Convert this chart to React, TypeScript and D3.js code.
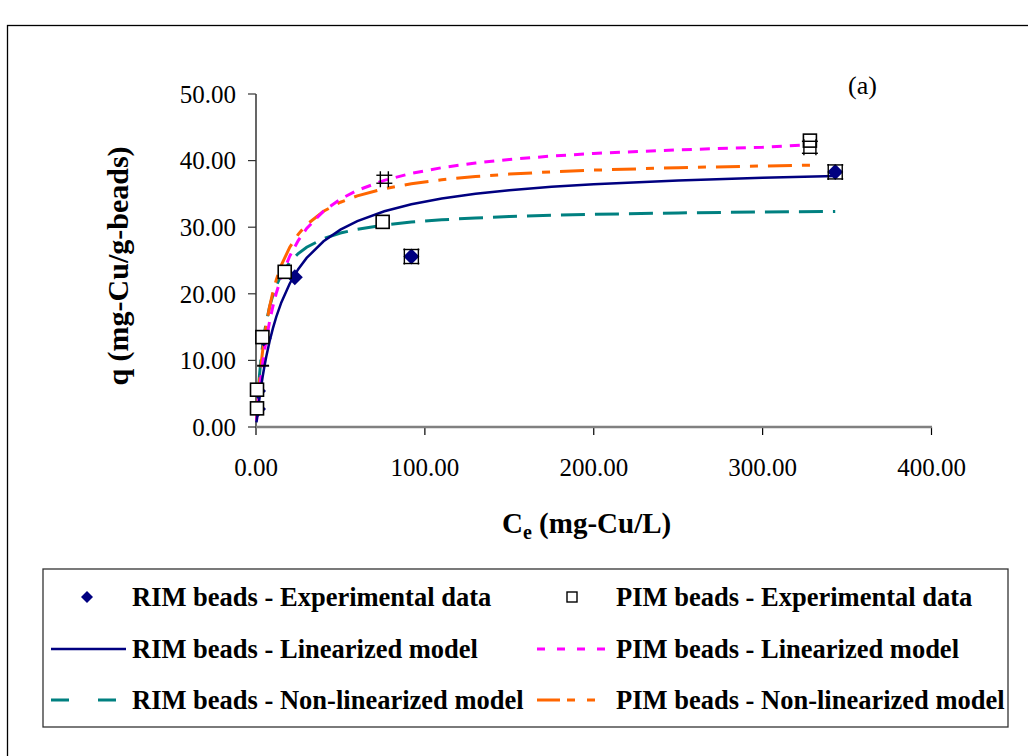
import React from "react";
import * as d3 from "d3";

// ---------- data ----------
const xTicks = [0, 100, 200, 300, 400];
const yTicks = [0, 10, 20, 30, 40, 50];

// RIM beads – experimental
const rimExpCe = [1.2, 1.2, 4.5, 23, 92, 343];
const rimExpQ = [2.7, 5.4, 13.3, 22.5, 25.6, 38.3];
// PIM beads – experimental
const pimExpCe = [0.6, 0.6, 3.8, 17, 75, 328];
const pimExpQ = [2.8, 5.6, 13.5, 23.3, 30.8, 43.0];

// error-bar frames (value coords), offset in px
const errFrameCe = [92, 343, 76, 328];
const errFrameQ = [25.6, 38.3, 37.2, 42.0];
const errFrameOff = [7, 7, 4, 6];
const capCe = [4.2];
const capQ = [9.2];

// model curves
const ceRim = [0.3, 1, 2, 3, 4, 5, 6, 8, 10, 12, 15, 20, 25, 30, 40, 50, 60, 76, 92, 110, 130, 150, 175, 200, 250, 300, 343];
const qRimLin = [0.7, 2.24, 4.23, 6.03, 7.65, 9.12, 10.46, 12.81, 14.81, 16.53, 18.71, 21.55, 23.7, 25.39, 27.88, 29.63, 30.91, 32.4, 33.44, 34.3, 35.01, 35.55, 36.07, 36.46, 37.03, 37.42, 37.67];
const qRimNon = [1.42, 4.3, 7.62, 10.24, 12.38, 14.14, 15.63, 18.0, 19.8, 21.21, 22.85, 24.75, 26.05, 27.0, 28.29, 29.12, 29.7, 30.34, 30.77, 31.11, 31.39, 31.6, 31.79, 31.94, 32.14, 32.28, 32.37];
const cePim = [0.3, 1, 2, 3, 4, 5, 6, 8, 10, 12, 15, 20, 25, 30, 40, 50, 60, 76, 92, 110, 130, 150, 175, 200, 250, 300, 330];
const qPimLin = [0.9, 2.88, 5.4, 7.64, 9.63, 11.41, 13.01, 15.79, 18.12, 20.09, 22.54, 25.67, 28.0, 29.81, 32.42, 34.22, 35.54, 37.04, 38.09, 38.94, 39.64, 40.17, 40.68, 41.07, 41.62, 42.0, 42.4];
const qPimNon = [1.18, 3.68, 6.75, 9.35, 11.57, 13.5, 15.19, 18.0, 20.25, 22.09, 24.3, 27.0, 28.93, 30.38, 32.4, 33.75, 34.71, 35.79, 36.53, 37.13, 37.61, 37.97, 38.31, 38.57, 38.94, 39.19, 39.31];

const legendLabels = [
  "RIM beads - Experimental data",
  "PIM beads - Experimental data",
  "RIM beads - Linearized model",
  "PIM beads - Linearized model",
  "RIM beads - Non-linearized model",
  "PIM beads - Non-linearized model",
];

// ---------- styles ----------
const NAVY = "#000080";
const TEAL = "#008080";
const MAGENTA = "#FF00FF";
const ORANGE = "#FF6600";
const FONT = "'Liberation Serif', 'Times New Roman', serif";

export default function App() {
  const x = d3.scaleLinear().domain([0, 400]).range([256, 931.5]);
  const y = d3.scaleLinear().domain([0, 50]).range([427, 94]);

  const line = d3
    .line<[number, number]>()
    .x((d) => x(d[0]))
    .y((d) => y(d[1]));
  const zip = (a: number[], b: number[]) => a.map((v, i) => [v, b[i]] as [number, number]);

  const diamond = (cx: number, cy: number, r: number) =>
    `M${cx},${cy - r}L${cx + r},${cy}L${cx},${cy + r}L${cx - r},${cy}Z`;

  const legendRowsY = [597, 649, 700];
  const leftText = 132;
  const rightText = 616;

  return (
    <svg width={1028} height={756} style={{ position: "absolute", left: 0, top: 0 }}>
      <rect x={0} y={0} width={1028} height={756} fill="#fff" />
      {/* outer frame */}
      <rect x={7.5} y={25.5} width={1100} height={800} fill="none" stroke="#000" strokeWidth={1.3} />

      {/* y axis */}
      <line x1={256} x2={256} y1={y(50)} y2={y(0)} stroke="#000" strokeWidth={1.2} />
      {yTicks.map((t) => (
        <g key={"yt" + t}>
          <line x1={248} x2={256} y1={y(t)} y2={y(t)} stroke="#333" strokeWidth={1.2} />
          <text x={236} y={y(t)} dy="0.35em" textAnchor="end" fontFamily={FONT} fontSize={25}>
            {t.toFixed(2)}
          </text>
        </g>
      ))}
      {/* x axis */}
      {xTicks.map((t) => (
        <g key={"xt" + t}>
          <line x1={x(t)} x2={x(t)} y1={427} y2={435} stroke="#000" strokeWidth={1.2} />
          <text x={x(t)} y={476} textAnchor="middle" fontFamily={FONT} fontSize={25}>
            {t.toFixed(2)}
          </text>
        </g>
      ))}
      <line x1={256} x2={932} y1={427} y2={427} stroke="#808080" strokeWidth={2.5} />

      {/* axis titles */}
      <text
        transform="translate(128,266) rotate(-90)"
        textAnchor="middle"
        fontFamily={FONT}
        fontSize={30}
        fontWeight="bold"
      >
        q (mg-Cu/g-beads)
      </text>
      <text x={502} y={533} fontFamily={FONT} fontSize={29} fontWeight="bold">
        C<tspan fontSize={20} dy={6}>e</tspan>
        <tspan dy={-6}> (mg-Cu/L)</tspan>
      </text>
      <text x={848} y={94} fontFamily={FONT} fontSize={26}>
        (a)
      </text>

      {/* model curves */}
      <path d={line(zip(ceRim, qRimNon)) || ""} fill="none" stroke={TEAL} strokeWidth={3} strokeDasharray="24,10" />
      <path d={line(zip(cePim, qPimNon)) || ""} fill="none" stroke={ORANGE} strokeWidth={3} strokeDasharray="24,10,8,10" />
      <path d={line(zip(cePim, qPimLin)) || ""} fill="none" stroke={MAGENTA} strokeWidth={3} strokeDasharray="10,8" />
      <path d={line(zip(ceRim, qRimLin)) || ""} fill="none" stroke={NAVY} strokeWidth={2.5} />

      {/* experimental markers */}
      {rimExpCe.map((c, i) => (
        <path key={"rd" + i} d={diamond(x(c), y(rimExpQ[i]), 8)} fill={NAVY} />
      ))}
      {pimExpCe.map((c, i) => (
        <rect
          key={"ps" + i}
          x={x(c) - 6.5}
          y={y(pimExpQ[i]) - 6.5}
          width={13}
          height={13}
          fill="#fff"
          stroke="#000"
          strokeWidth={1.6}
        />
      ))}

      {/* error bar caps */}
      {errFrameCe.map((c, i) => {
        const cx = x(c);
        const cy = y(errFrameQ[i]);
        const o = errFrameOff[i];
        const h = 8;
        return (
          <g key={"ef" + i} stroke="#000" strokeWidth={1.4}>
            <line x1={cx - o} x2={cx - o} y1={cy - h} y2={cy + h} />
            <line x1={cx + o} x2={cx + o} y1={cy - h} y2={cy + h} />
            <line x1={cx - h} x2={cx + h} y1={cy - o} y2={cy - o} />
            <line x1={cx - h} x2={cx + h} y1={cy + o} y2={cy + o} />
          </g>
        );
      })}
      {capCe.map((c, i) => (
        <line key={"cap" + i} x1={x(c) - 6} x2={x(c) + 6} y1={y(capQ[i])} y2={y(capQ[i])} stroke="#000" strokeWidth={2} />
      ))}

      {/* legend */}
      <rect x={43} y={569} width={965} height={158} fill="#fff" stroke="#333" strokeWidth={1.3} />
      {/* row 1 */}
      <path d={diamond(87, legendRowsY[0], 6)} fill={NAVY} />
      <rect x={567} y={592} width={10} height={10} fill="#fff" stroke="#000" strokeWidth={1.4} />
      {/* row 2 */}
      <line x1={51} x2={126} y1={legendRowsY[1]} y2={legendRowsY[1]} stroke={NAVY} strokeWidth={2.5} />
      <line x1={537} x2={605} y1={legendRowsY[1]} y2={legendRowsY[1]} stroke={MAGENTA} strokeWidth={3} strokeDasharray="8,12" />
      {/* row 3 */}
      <line x1={51} x2={126} y1={legendRowsY[2]} y2={legendRowsY[2]} stroke={TEAL} strokeWidth={3} strokeDasharray="18,29" />
      <line x1={537} x2={605} y1={legendRowsY[2]} y2={legendRowsY[2]} stroke={ORANGE} strokeWidth={3} strokeDasharray="23,7,8,12,8,12" />
      {legendLabels.map((lab, i) => (
        <text
          key={"lg" + i}
          x={i % 2 === 0 ? leftText : rightText}
          y={legendRowsY[Math.floor(i / 2)]}
          dy="0.35em"
          fontFamily={FONT}
          fontSize={26.5}
          fontWeight="bold"
        >
          {lab}
        </text>
      ))}
    </svg>
  );
}
